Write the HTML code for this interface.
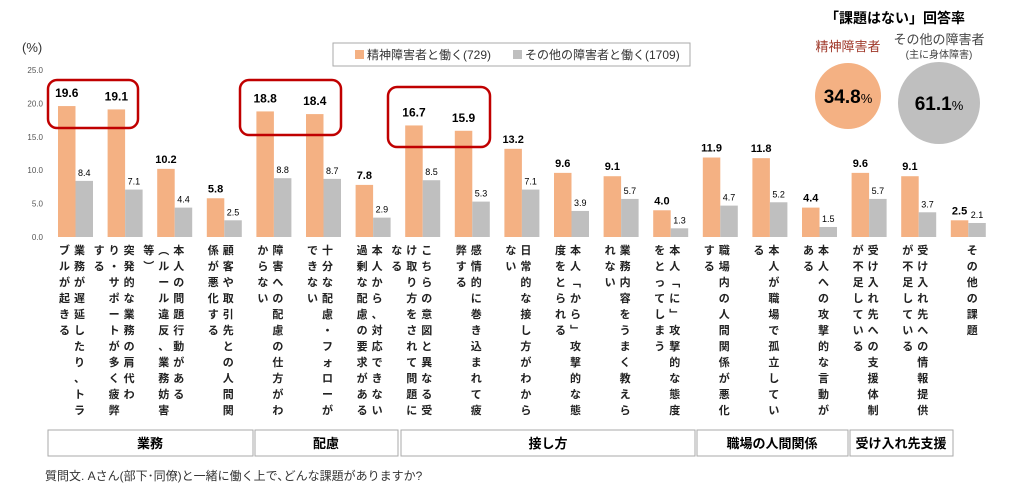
<!DOCTYPE html>
<html><head><meta charset="utf-8">
<style>
body{margin:0;background:#fff;width:1012px;height:490px;overflow:hidden;font-family:"Liberation Sans","Noto Sans CJK JP",sans-serif;}
svg text{font-family:"Liberation Sans","Noto Sans CJK JP",sans-serif;}
</style></head><body>
<svg id="chart" width="1012" height="490" viewBox="0 0 1012 490" xmlns="http://www.w3.org/2000/svg">
<text x="22" y="52" font-size="13" fill="#333">(%)</text>
<g id="yaxis"></g>
<g>
<rect x="333" y="43" width="357" height="23" fill="#fff" stroke="#aaa"/>
<rect x="355" y="50" width="9" height="9" fill="#f4b183"/>
<text x="367" y="59" font-size="12" fill="#333">精神障害者と働く(729)</text>
<rect x="513" y="50" width="9" height="9" fill="#bfbfbf"/>
<text x="525" y="59" font-size="12" fill="#333">その他の障害者と働く(1709)</text>
</g>
<g id="bars"></g>
<g id="labels"></g>
<g fill="none" stroke="#c00000" stroke-width="2.5">
<rect x="48" y="80" width="90" height="48" rx="9"/>
<rect x="240" y="80" width="101" height="55" rx="9"/>
<rect x="388" y="87" width="102" height="60" rx="9"/>
</g>
<g>
<text x="895" y="23" font-size="14" font-weight="bold" text-anchor="middle" fill="#000">「課題はない」回答率</text>
<text x="848" y="51" font-size="13" text-anchor="middle" fill="#a0392a">精神障害者</text>
<text x="939" y="44" font-size="13" text-anchor="middle" fill="#444">その他の障害者</text>
<text x="939" y="58" font-size="10" text-anchor="middle" fill="#444">(主に身体障害)</text>
<circle cx="848" cy="96" r="33" fill="#f4b183"/>
<text x="848" y="103" font-size="19" font-weight="bold" text-anchor="middle" fill="#000">34.8<tspan font-size="13" font-weight="normal">%</tspan></text>
<circle cx="939" cy="103" r="41" fill="#bfbfbf"/>
<text x="939" y="110" font-size="19" font-weight="bold" text-anchor="middle" fill="#000">61.1<tspan font-size="13" font-weight="normal">%</tspan></text>
</g>
<g font-size="13" font-weight="bold" text-anchor="middle">
<rect x="48" y="430" width="205" height="26" fill="#fff" stroke="#aaa"/>
<text x="150" y="448">業務</text>
<rect x="255" y="430" width="143" height="26" fill="#fff" stroke="#aaa"/>
<text x="326" y="448">配慮</text>
<rect x="401" y="430" width="294" height="26" fill="#fff" stroke="#aaa"/>
<text x="548" y="448">接し方</text>
<rect x="697" y="430" width="151" height="26" fill="#fff" stroke="#aaa"/>
<text x="772" y="448">職場の人間関係</text>
<rect x="850" y="430" width="103" height="26" fill="#fff" stroke="#aaa"/>
<text x="901" y="448">受け入れ先支援</text>
</g>
<text x="45" y="480" font-size="12" fill="#333">質問文. Aさん(部下･同僚)と一緒に働く上で､どんな課題がありますか?</text>
</svg>
<script>
const categories=[
["業務が遅延したり、トラ","ブルが起きる"],
["突発的な業務の肩代わ","り・サポートが多く疲弊","する"],
["本人の問題行動がある","︵ルール違反、業務妨害","等︶"],
["顧客や取引先との人間関","係が悪化する"],
["障害への配慮の仕方がわ","からない"],
["十分な配慮・フォローが","できない"],
["本人から、対応できない","過剰な配慮の要求がある"],
["こちらの意図と異なる受","け取り方をされて問題に","なる"],
["感情的に巻き込まれて疲","弊する"],
["日常的な接し方がわから","ない"],
["本人﹁から﹂攻撃的な態","度をとられる"],
["業務内容をうまく教えら","れない"],
["本人﹁に﹂攻撃的な態度","をとってしまう"],
["職場内の人間関係が悪化","する"],
["本人が職場で孤立してい","る"],
["本人への攻撃的な言動が","ある"],
["受け入れ先への支援体制","が不足している"],
["受け入れ先への情報提供","が不足している"],
["その他の課題"]];
const mentalValues=[19.6,19.1,10.2,5.8,18.8,18.4,7.8,16.7,15.9,13.2,9.6,9.1,4.0,11.9,11.8,4.4,9.6,9.1,2.5];
const otherValues=[8.4,7.1,4.4,2.5,8.8,8.7,2.9,8.5,5.3,7.1,3.9,5.7,1.3,4.7,5.2,1.5,5.7,3.7,2.1];
const yTicks=[0,5,10,15,20,25];
const emphasized=[0,1,4,5,7,8];

const NS="http://www.w3.org/2000/svg";
const y0=237,yTop=70,yMax=25;
function yScale(v){return y0-(v/yMax)*(y0-yTop);}
function xScale(i){return 58+i*49.6;}
const bw=17.5;
function mk(tag,attrs,parent){const e=document.createElementNS(NS,tag);for(const k in attrs)e.setAttribute(k,attrs[k]);parent.appendChild(e);return e;}
const ya=document.getElementById('yaxis');
yTicks.forEach(t=>{
  const e=mk('text',{x:43,y:yScale(t)+3,'font-size':8,'text-anchor':'end',fill:'#555'},ya);
  
  
  e.textContent=t.toFixed(1);
});
const bars=document.getElementById('bars');
mentalValues.forEach((v,i)=>{
  const x=xScale(i);
  const r=mk('rect',{x:x,y:yScale(v),width:bw,height:y0-yScale(v),fill:'#f4b183'},bars);
  
  
  const big=emphasized.includes(i);
  const t=mk('text',{x:x+bw/2,y:yScale(v)-(big?9:6),'font-size':big?12:11,'font-weight':'bold','text-anchor':'middle',fill:'#000'},bars);
  
  
  t.textContent=v.toFixed(1);
});
otherValues.forEach((v,i)=>{
  const x=xScale(i)+bw;
  const r=mk('rect',{x:x,y:yScale(v),width:bw,height:y0-yScale(v),fill:'#bfbfbf'},bars);
  
  
  const t=mk('text',{x:x+bw/2,y:yScale(v)-5,'font-size':9,'text-anchor':'middle',fill:'#000'},bars);
  
  
  t.textContent=v.toFixed(1);
});
const lab=document.getElementById('labels');
categories.forEach((cols,i)=>{
  const g=mk('g',{},lab);
  
  
  cols.forEach((c,j)=>{
    const cx=xScale(i)+bw+4-j*15;
    [...c].forEach((ch,k)=>{
      const t=mk('text',{x:cx,y:254+k*16,'font-size':11,'font-weight':'bold','text-anchor':'middle',fill:'#222'},g);
      t.textContent=ch;
    });
  });
});
</script>
</body></html>
